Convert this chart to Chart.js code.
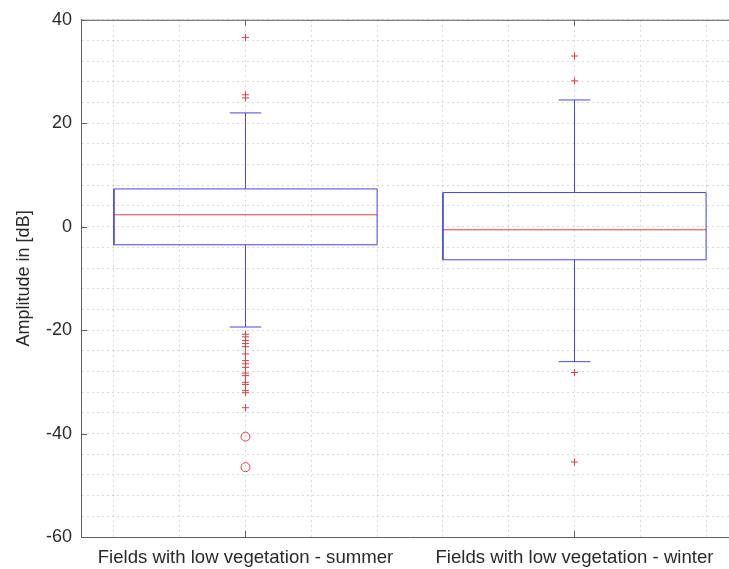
<!DOCTYPE html>
<html>
<head>
<meta charset="utf-8">
<script src="https://cdn.jsdelivr.net/npm/chart.js@4/dist/chart.umd.min.js"></script>
<style>
  html, body { margin: 0; padding: 0; background: #fff; overflow: hidden; }
  #wrap { width: 758px; height: 569px; }
</style>
</head>
<body>
<div id="wrap"><canvas id="c" width="758" height="569"></canvas></div>
<script>
// Box plot of backscatter amplitude for two seasons
const categories = ['Fields with low vegetation - summer', 'Fields with low vegetation - winter'];
const lowerQuartile = [-3.5, -6.4];
const medians = [2.3, -0.6];
const upperQuartile = [7.3, 6.6];
const lowerWhisker = [-19.4, -26.1];
const upperWhisker = [22.0, 24.5];
const outliersSummer = [36.6, 25.5, 24.9, -20.8, -21.3, -22.0, -22.6, -23.2, -24.6, -25.9, -26.5, -27.2,
                        -28.3, -28.8, -30.1, -30.5, -31.7, -32.1, -35.0];
const outliersWinter = [33.0, 28.2, -28.2, -45.5];
const extremeSummer = [-40.6, -46.5];
const extremeWinter = [];
const yTicks = [-60, -40, -20, 0, 20, 40];

const BLUE = 'rgb(70,70,235)';
const RED = 'rgb(235,60,60)';
const HALF_BOX = 0.4;
const HALF_CAP = 0.048;

const datasets = [];
const outlierSets = [outliersSummer, outliersWinter];
const extremeSets = [extremeSummer, extremeWinter];

function lineSet(points, color) {
  return { data: points, showLine: true, borderColor: color, borderWidth: 1,
           pointRadius: 0, pointHoverRadius: 0, fill: false, tension: 0 };
}

categories.forEach((name, i) => {
  const x = i + 1;
  // box
  datasets.push(lineSet([
    { x: x - HALF_BOX, y: lowerQuartile[i] }, { x: x + HALF_BOX, y: lowerQuartile[i] },
    { x: x + HALF_BOX, y: upperQuartile[i] }, { x: x - HALF_BOX, y: upperQuartile[i] },
    { x: x - HALF_BOX, y: lowerQuartile[i] }
  ], BLUE));
  // whiskers
  datasets.push(lineSet([{ x, y: upperQuartile[i] }, { x, y: upperWhisker[i] }], BLUE));
  datasets.push(lineSet([{ x, y: lowerQuartile[i] }, { x, y: lowerWhisker[i] }], BLUE));
  datasets.push(lineSet([{ x: x - HALF_CAP, y: upperWhisker[i] }, { x: x + HALF_CAP, y: upperWhisker[i] }], BLUE));
  datasets.push(lineSet([{ x: x - HALF_CAP, y: lowerWhisker[i] }, { x: x + HALF_CAP, y: lowerWhisker[i] }], BLUE));
  // median
  datasets.push(lineSet([{ x: x - HALF_BOX, y: medians[i] }, { x: x + HALF_BOX, y: medians[i] }], RED));
  // outliers
  datasets.push({ data: outlierSets[i].map(v => ({ x, y: v })), showLine: false,
                  pointStyle: 'cross', pointRadius: 3.5, borderColor: RED, borderWidth: 1 });
  datasets.push({ data: extremeSets[i].map(v => ({ x, y: v })), showLine: false,
                  pointStyle: 'circle', pointRadius: 4.5, borderColor: RED,
                  backgroundColor: 'rgba(0,0,0,0)', borderWidth: 1 });
});

const FONT = { family: '"Liberation Sans", Arial, sans-serif', size: 18 };
const CAT_FONT = { family: '"Liberation Sans", Arial, sans-serif', size: 18.6 };
const TEXT = '#2a2a2a';
const AXIS = '#606060';
const GRID = 'rgba(0,0,0,0.15)';

// inward tick marks and top border line
const frame = {
  id: 'frame',
  afterDatasetsDraw(chart) {
    const { ctx, chartArea: a, scales: { x, y } } = chart;
    ctx.save();
    ctx.strokeStyle = AXIS;
    ctx.lineWidth = 1;
    ctx.beginPath();
    ctx.moveTo(a.left, a.top + 0.5);
    ctx.lineTo(a.right, a.top + 0.5);
    yTicks.forEach(v => {
      const py = Math.round(y.getPixelForValue(v)) + 0.5;
      ctx.moveTo(a.left, py); ctx.lineTo(a.left + 6, py);
      ctx.moveTo(a.right, py); ctx.lineTo(a.right - 6, py);
    });
    categories.forEach((c, i) => {
      const px = Math.floor(x.getPixelForValue(i + 1)) + 0.5;
      ctx.moveTo(px, a.bottom); ctx.lineTo(px, a.bottom - 6);
      ctx.moveTo(px, a.top); ctx.lineTo(px, a.top + 6);
    });
    ctx.stroke();
    ctx.restore();
  }
};

new Chart(document.getElementById('c'), {
  type: 'scatter',
  data: { datasets },
  plugins: [frame],
  options: {
    responsive: false,
    devicePixelRatio: 1,
    animation: false,
    layout: { padding: { top: 19, right: 19, left: 0, bottom: 0 } },
    plugins: { legend: { display: false }, tooltip: { enabled: false } },
    scales: {
      x: {
        type: 'linear', min: 0.5, max: 2.5,
        afterBuildTicks(scale) {
          const t = [];
          for (let k = 3; k <= 12; k++) t.push({ value: k / 5 });
          scale.ticks = t;
        },
        afterFit(scale) { scale.height = 32; },
        ticks: {
          autoSkip: false, maxRotation: 0, minRotation: 0, padding: 10,
          color: TEXT, font: CAT_FONT,
          callback(v) {
            const idx = Math.round(v) - 1;
            return Math.abs(v - Math.round(v)) < 1e-6 && categories[idx] ? categories[idx] : '';
          }
        },
        grid: { color: GRID, drawTicks: false },
        border: { color: AXIS, width: 1, dash: [2, 3] },
      },
      y: {
        type: 'linear', min: -60, max: 40,
        ticks: {
          stepSize: 4, autoSkip: false, padding: 9, color: TEXT, font: FONT,
          callback(v) { return yTicks.includes(v) ? String(v) : ''; }
        },
        afterFit(scale) { scale.width = 81; },
        title: { display: true, text: 'Amplitude in [dB]', color: TEXT, font: FONT, padding: { top: 13, bottom: 0 } },
        grid: { color: GRID, drawTicks: false },
        border: { color: AXIS, width: 1, dash: [2, 3] },
      }
    }
  }
});
</script>
</body>
</html>
